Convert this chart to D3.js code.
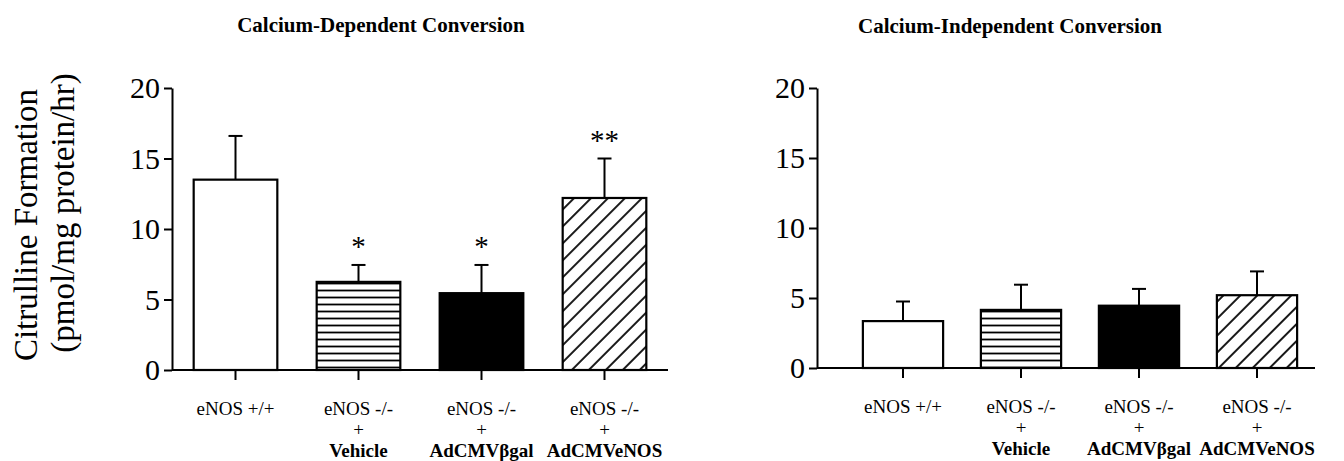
<!DOCTYPE html>
<html>
<head>
<meta charset="utf-8">
<script src="https://cdn.jsdelivr.net/npm/d3@7"></script>
<style>
  html, body { margin: 0; padding: 0; background: #fff; }
  svg { display: block; }
  text { font-family: "Liberation Serif", "Times New Roman", serif; fill: #000; }
</style>
</head>
<body>
<svg id="chart" width="1344" height="461"></svg>
<script>
// ---- data ----
var groupLabels = [
    ["eNOS +/+"],
    ["eNOS -/-", "+", "Vehicle"],
    ["eNOS -/-", "+", "AdCMV\u03b2gal"],
    ["eNOS -/-", "+", "AdCMVeNOS"]
];
var groupFills = ["white", "url(#hstripe)", "black", "url(#diag)"];

var depMean = [13.5, 6.25, 5.45, 12.2];
var depSem  = [3.1, 1.2, 2.0, 2.8];
var depSig  = ["", "*", "*", "**"];

var indepMean = [3.35, 4.15, 4.45, 5.2];
var indepSem  = [1.4, 1.8, 1.2, 1.7];
var indepSig  = ["", "", "", ""];

var yTicks = [0, 5, 10, 15, 20];
var yLabelLines = ["Citrulline Formation", "(pmol/mg protein/hr)"];

var panels = [
    { title: "Calcium-Dependent Conversion", titleX: 381, titleY: 32,
      axisX: 172, axisEnd: 668, band: [174, 666], top: 88, base: 370,
      mean: depMean, sem: depSem, sig: depSig },
    { title: "Calcium-Independent Conversion", titleX: 1010, titleY: 33,
      axisX: 817, axisEnd: 1315, band: [844, 1316], top: 88, base: 368,
      mean: indepMean, sem: indepSem, sig: indepSig }
];

var svg = d3.select('#chart');

// hatch patterns
var defs = svg.append('defs');
defs.append('pattern')
    .attr('id', 'hstripe')
    .attr('patternUnits', 'userSpaceOnUse')
    .attr('width', 10).attr('height', 7)
    .append('line')
    .attr('x1', 0).attr('x2', 10).attr('y1', 3.5).attr('y2', 3.5)
    .attr('stroke', '#000').attr('stroke-width', 1.8);
defs.append('pattern')
    .attr('id', 'diag')
    .attr('patternUnits', 'userSpaceOnUse')
    .attr('width', 12).attr('height', 12)
    .attr('patternTransform', 'rotate(45)')
    .append('line')
    .attr('x1', 6).attr('x2', 6).attr('y1', 0).attr('y2', 12)
    .attr('stroke', '#000').attr('stroke-width', 1.8);

// y-axis title (shared, left side)
svg.append('text')
    .attr('transform', 'translate(37,225) rotate(-90)')
    .attr('text-anchor', 'middle')
    .style('font-size', '33px')
    .text(yLabelLines[0]);
svg.append('text')
    .attr('transform', 'translate(74,213) rotate(-90)')
    .attr('text-anchor', 'middle')
    .style('font-size', '33px')
    .text(yLabelLines[1]);

panels.forEach(function (p) {
    var g = svg.append('g');
    var idx = d3.range(p.mean.length);

    var x = d3.scaleBand()
        .domain(idx)
        .range(p.band)
        .paddingInner(0.32)
        .paddingOuter(0.16);
    var y = d3.scaleLinear().domain([0, 20]).range([p.base, p.top]);

    g.append('text')
        .attr('x', p.titleX).attr('y', p.titleY)
        .attr('text-anchor', 'middle')
        .style('font-size', '21px').style('font-weight', 'bold')
        .text(p.title);

    // error bars (drawn first so bar outline sits on top)
    var err = g.append('g').attr('stroke', '#000').attr('stroke-width', 2);
    idx.forEach(function (i) {
        var cx = x(i) + x.bandwidth() / 2;
        err.append('line')
            .attr('x1', cx).attr('x2', cx)
            .attr('y1', y(p.mean[i])).attr('y2', y(p.mean[i] + p.sem[i]));
        err.append('line')
            .attr('x1', cx - 7).attr('x2', cx + 7)
            .attr('y1', y(p.mean[i] + p.sem[i])).attr('y2', y(p.mean[i] + p.sem[i]));
    });

    g.selectAll('rect.bar')
        .data(idx)
        .enter().append('rect')
        .attr('class', 'bar')
        .attr('x', function (i) { return x(i); })
        .attr('width', x.bandwidth())
        .attr('y', function (i) { return y(p.mean[i]); })
        .attr('height', function (i) { return y(0) - y(p.mean[i]); })
        .attr('fill', function (i) { return groupFills[i]; })
        .attr('stroke', '#000')
        .attr('stroke-width', 2.2);

    // significance marks
    g.selectAll('text.sig')
        .data(idx)
        .enter().append('text')
        .attr('class', 'sig')
        .attr('x', function (i) { return x(i) + x.bandwidth() / 2; })
        .attr('y', function (i) { return y(p.mean[i] + p.sem[i]) - 9; })
        .attr('text-anchor', 'middle')
        .style('font-size', '29px')
        .text(function (i) { return p.sig[i]; });

    // y axis
    var yAxis = g.append('g')
        .attr('transform', 'translate(' + p.axisX + ',0)')
        .call(d3.axisLeft(y).tickValues(yTicks).tickSize(8).tickSizeOuter(0).tickPadding(4));
    yAxis.select('.domain').attr('stroke-width', 2);
    yAxis.selectAll('.tick line').attr('stroke-width', 2);
    yAxis.selectAll('.tick text')
        .style('font-size', '30px')
        .style('font-family', '"Liberation Serif", "Times New Roman", serif')
        .attr('fill', '#000');

    // x baseline from the y axis to the end
    g.append('line')
        .attr('x1', p.axisX).attr('x2', p.axisEnd)
        .attr('y1', y(0)).attr('y2', y(0))
        .attr('stroke', '#000').attr('stroke-width', 2);

    var xAxis = g.append('g')
        .attr('transform', 'translate(0,' + y(0) + ')')
        .call(d3.axisBottom(x).tickSize(10).tickSizeOuter(0).tickFormat(''));
    xAxis.select('.domain').remove();
    xAxis.selectAll('.tick line').attr('stroke-width', 2);

    // multi-line group labels
    idx.forEach(function (i) {
        var t = g.append('text')
            .attr('x', x(i) + x.bandwidth() / 2)
            .attr('y', y(0) + 45)
            .attr('text-anchor', 'middle')
            .style('font-size', '19px');
        groupLabels[i].forEach(function (line, k) {
            t.append('tspan')
                .attr('x', x(i) + x.bandwidth() / 2)
                .attr('dy', k === 0 ? 0 : 21)
                .style('font-weight', k === 2 ? 'bold' : 'normal')
                .text(line);
        });
    });
});
</script>
</body>
</html>
